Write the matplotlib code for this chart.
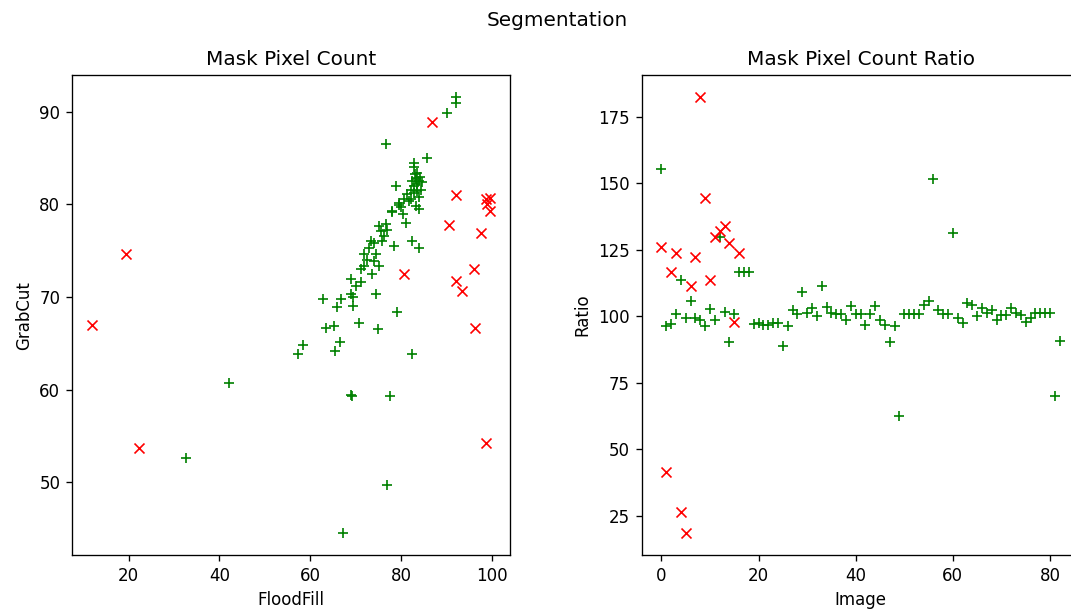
#
# python3 plot.py
#
import matplotlib
matplotlib.use("Agg")
import matplotlib.pyplot as plt

# GrabCut vs FloodFill pixel counts (green = ok, red = rejected)
ff_ok = [57.3, 58.4, 62.7, 63.4, 65.2, 65.8, 65.4, 66.5, 66.8, 69.3,
         70.7, 74.9, 79.2, 82.5, 42.1, 68.9, 69.1, 77.6, 32.6, 77.0,
         67.3, 69.0, 69.5, 74.4, 68.9, 71.1, 73.7, 71.1, 71.8, 75.1,
         74.0, 71.8, 74.4, 73.3, 72.9, 75.9, 78.4, 82.5, 83.9, 75.1,
         76.6, 75.5, 76.2, 81.0, 77.9, 79.5, 81.7, 83.2, 78.8, 81.4,
         80.6, 82.1, 79.5, 78.1, 79.9, 83.9, 82.8, 82.1, 83.6, 84.3,
         83.6, 83.2, 82.5, 84.0, 84.7, 82.8, 82.8, 85.6, 76.6, 90.0,
         92.0, 92.2, 83.0, 84.2, 83.5, 82.9, 84.0, 77.0, 74.0, 72.5,
         70.0, 80.4, 83.3]
gc_ok = [63.8, 64.8, 69.8, 66.7, 66.9, 68.9, 64.2, 65.1, 69.8, 69.0,
         67.2, 66.6, 68.4, 63.9, 60.7, 59.4, 59.3, 59.3, 52.6, 49.7,
         44.5, 70.3, 70.0, 70.3, 72.0, 71.6, 72.5, 73.0, 73.3, 73.4,
         73.9, 74.6, 74.6, 76.1, 75.3, 76.1, 75.5, 76.1, 75.3, 77.7,
         77.9, 77.1, 76.6, 78.0, 79.2, 79.9, 80.4, 79.8, 82.0, 81.1,
         80.6, 80.6, 80.2, 79.3, 79.7, 79.5, 82.0, 81.6, 81.5, 81.6,
         83.4, 82.9, 82.5, 82.5, 82.4, 84.5, 84.0, 85.0, 86.5, 89.9,
         91.0, 91.6, 83.3, 83.0, 82.2, 81.2, 80.8, 77.2, 75.8, 74.0,
         71.2, 79.0, 82.8]

ff_bad = [99.6, 22.3, 90.5, 99.5, 19.5, 11.9, 80.6, 98.6, 98.6, 96.3,
          92.0, 92.0, 96.0, 93.4, 97.6, 86.7, 99.0]
gc_bad = [79.3, 53.7, 77.8, 80.7, 74.7, 67.0, 72.5, 80.6, 54.2, 66.7,
          81.0, 71.7, 73.0, 70.7, 76.9, 88.9, 80.0]

# ratio per image
ratio_ok = [155.4, 96.5, 97.2, 100.8, 113.5, 99.4, 105.6, 99.4, 98.5, 96.5,
            102.8, 98.7, 129.7, 101.6, 90.4, 101.0, 116.8, 116.8, 116.8, 97.2,
            97.5, 96.7, 96.7, 97.5, 97.5, 89.0, 96.2, 102.5, 101.0, 109.2,
            101.2, 103.0, 100.0, 111.5, 103.5, 101.2, 101.0, 101.0, 98.7, 103.8,
            101.0, 101.0, 96.7, 101.0, 103.8, 98.7, 96.7, 90.4, 96.2, 62.4,
            101.0, 101.0, 101.0, 101.0, 104.4, 105.6, 151.6, 102.5, 101.0, 101.0,
            131.5, 99.4, 97.5, 105.0, 104.4, 100.0, 103.0, 101.2, 102.5, 98.7,
            100.6, 100.6, 103.0, 101.2, 100.6, 98.0, 99.4, 101.2, 101.2, 101.2,
            101.2, 70.0, 90.6]
ratio_bad = [126.0, 41.6, 116.8, 124.0, 26.4, 18.4, 111.3, 122.3, 182.5, 144.5,
             113.8, 129.7, 132.0, 134.0, 127.5, 97.7, 123.7]

fig = plt.figure(figsize=(1071 / 120, 612 / 120), dpi=120)
fig.suptitle("Segmentation", x=0.52, y=0.967, va="center")

ax1 = fig.add_axes([0.0672, 0.0931, 0.409, 0.784])
ax1.scatter(ff_ok, gc_ok, marker="+", c="green", linewidths=1)
ax1.scatter(ff_bad, gc_bad, marker="x", c="red", linewidths=1)
ax1.set_title("Mask Pixel Count")
ax1.set_xlabel("FloodFill")
ax1.set_ylabel("GrabCut")

ax2 = fig.add_axes([0.599, 0.0931, 0.409, 0.784])
ax2.scatter(range(len(ratio_ok)), ratio_ok, marker="+", c="green", linewidths=1)
ax2.scatter(range(len(ratio_bad)), ratio_bad, marker="x", c="red", linewidths=1)
ax2.set_title("Mask Pixel Count Ratio")
ax2.set_xlabel("Image")
ax2.set_ylabel("Ratio")

plt.savefig("out.png", dpi=120)
